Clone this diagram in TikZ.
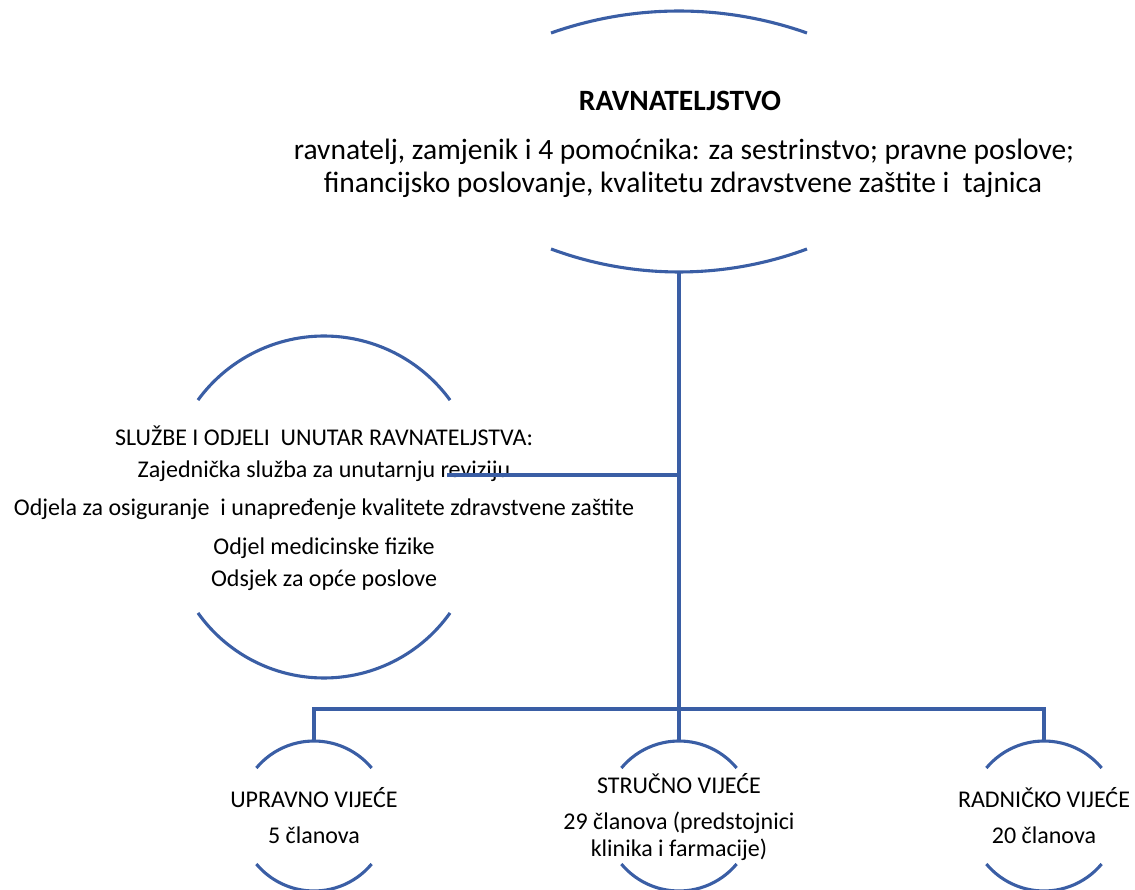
\documentclass[tikz,border=0pt]{standalone}
\usepackage{fontspec}
\setmainfont{Carlito}
\usetikzlibrary{shapes.geometric}
\definecolor{lineblue}{RGB}{58,94,165}
\begin{document}
\begin{tikzpicture}[x=1pt,y=-1pt,
  ln/.style={draw=lineblue, line width=3.1pt},
  txt/.style={font=\fontsize{24}{28}\selectfont, anchor=base, inner sep=0pt},
  big/.style={font=\fontsize{29.5}{34}\selectfont, anchor=base, inner sep=0pt},
  bigb/.style={font=\fontsize{29.5}{34}\selectfont\bfseries, anchor=base, inner sep=0pt},
  holder/.style={ellipse, draw=none, inner sep=0pt, outer sep=0pt}]
\useasboundingbox (0,0) rectangle (1135,890);

% shape holders
\node[holder, minimum width=460, minimum height=261] (dir) at (679,141.5) {};
\node[holder, minimum width=322, minimum height=342] (sluz) at (324,507) {};
\node[holder, minimum width=150, minimum height=150] (upr) at (314,816) {};
\node[holder, minimum width=150, minimum height=150] (str) at (679,816) {};
\node[holder, minimum width=150, minimum height=150] (rad) at (1044,816) {};

% texts
\node[bigb] (t0) at (680,111) {RAVNATELJSTVO};
\node[big] (t1) at (684,160) {ravnatelj, zamjenik i 4 pomoćnika: za sestrinstvo; pravne poslove;};
\node[big] (t2) at (683,193) {financijsko poslovanje, kvalitetu zdravstvene zaštite i\ \ tajnica};

\node[txt] (s0) at (324,445) {SLUŽBE I ODJELI\ \ UNUTAR RAVNATELJSTVA:};
\node[txt] (s1) at (324,477) {Zajednička služba za unutarnju reviziju};
\node[txt] (s2) at (324,515) {Odjela za osiguranje\ \ i unapređenje kvalitete zdravstvene zaštite};
\node[txt] (s3) at (324,554) {Odjel medicinske fizike};
\node[txt] (s4) at (324,586) {Odsjek za opće poslove};

\node[txt] (u0) at (314,807) {UPRAVNO VIJEĆE};
\node[txt] (u1) at (314,843) {5 članova};
\node[txt] (r0) at (679,793) {STRUČNO VIJEĆE};
\node[txt] (r1) at (679,829) {29 članova (predstojnici};
\node[txt] (r2) at (679,856) {klinika i farmacije)};
\node[txt] (d0) at (1044,807) {RADNIČKO VIJEĆE};
\node[txt] (d1) at (1044,843) {20 članova};

% arcs (top and bottom of each shape)
\draw[ln] (679,394.4) ++(250.5:383.4) arc[start angle=250.5, end angle=289.5, radius=383.4];
\draw[ln] (679,-95.7) ++(69.63:367.7) arc[start angle=69.63, end angle=110.37, radius=367.7];
\draw[ln] (324,492) ++(216.1:156) arc[start angle=216.1, end angle=323.9, radius=156];
\draw[ln] (324,523.4) ++(35.4:154.6) arc[start angle=35.4, end angle=144.6, radius=154.6];
\foreach \n in {upr,str,rad}{
  \draw[ln] (\n.center) ++(219.8:75) arc[start angle=219.8, end angle=320.2, radius=75];
  \draw[ln] (\n.center) ++(39.8:75) arc[start angle=39.8, end angle=140.2, radius=75];
}

% connectors
\coordinate (bus) at (679,709);
\coordinate (brl) at (447,475);
\draw[ln] (dir.south) -- (str.north);
\draw[ln] (upr.north) -- (upr.north |- bus) -- (rad.north |- bus) -- (rad.north);
\draw[ln] (dir.south |- brl) -- (brl);
\end{tikzpicture}
\end{document}
